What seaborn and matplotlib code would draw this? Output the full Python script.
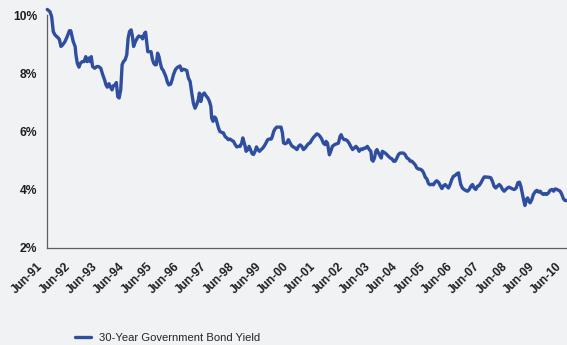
import matplotlib
matplotlib.use("Agg")
import matplotlib.pyplot as plt
import matplotlib.transforms as mtransforms
import seaborn as sns
import pandas as pd

# readings taken off the chart: decimal year, yield in %
year = [1991.51, 1991.61, 1991.67, 1991.73, 1991.79, 1991.88, 1991.95, 1992.01, 1992.07, 1992.16,
        1992.24, 1992.32, 1992.37, 1992.42, 1992.46, 1992.53, 1992.56, 1992.61, 1992.67, 1992.72,
        1992.79, 1992.86, 1992.92, 1992.97, 1993.03, 1993.08, 1993.12, 1993.17, 1993.25, 1993.32,
        1993.39, 1993.47, 1993.54, 1993.61, 1993.66, 1993.71, 1993.77, 1993.83, 1993.88, 1993.93,
        1993.99, 1994.04, 1994.09, 1994.14, 1994.20, 1994.25, 1994.30, 1994.36, 1994.42, 1994.47,
        1994.52, 1994.58, 1994.63, 1994.67, 1994.74, 1994.80, 1994.86, 1994.91, 1994.96, 1995.00,
        1995.07, 1995.11, 1995.15, 1995.19, 1995.25, 1995.31, 1995.36, 1995.41, 1995.46, 1995.50,
        1995.55, 1995.60, 1995.65, 1995.70, 1995.76, 1995.85, 1995.91, 1995.96, 1996.03, 1996.08,
        1996.13, 1996.20, 1996.27, 1996.37, 1996.43, 1996.49, 1996.56, 1996.62, 1996.68, 1996.74,
        1996.80, 1996.86, 1996.92, 1996.98, 1997.04, 1997.08, 1997.13, 1997.19, 1997.26, 1997.32,
        1997.39, 1997.45, 1997.50, 1997.53, 1997.58, 1997.63, 1997.68, 1997.73, 1997.78, 1997.83,
        1997.90, 1997.96, 1998.02, 1998.08, 1998.14, 1998.20, 1998.26, 1998.33, 1998.39, 1998.45,
        1998.51, 1998.57, 1998.63, 1998.67, 1998.72, 1998.75, 1998.79, 1998.85, 1998.90, 1998.96,
        1999.01, 1999.06, 1999.12, 1999.17, 1999.22, 1999.28, 1999.34, 1999.40, 1999.46, 1999.52,
        1999.58, 1999.64, 1999.71, 1999.75, 1999.80, 1999.85, 1999.91, 2000.00, 2000.07, 2000.12,
        2000.16, 2000.22, 2000.28, 2000.34, 2000.40, 2000.46, 2000.52, 2000.59, 2000.65, 2000.71,
        2000.77, 2000.83, 2000.89, 2000.95, 2001.01, 2001.07, 2001.13, 2001.20, 2001.26, 2001.32,
        2001.38, 2001.44, 2001.50, 2001.56, 2001.62, 2001.68, 2001.72, 2001.77, 2001.81, 2001.84,
        2001.89, 2001.95, 2002.03, 2002.11, 2002.17, 2002.23, 2002.27, 2002.32, 2002.38, 2002.44,
        2002.50, 2002.56, 2002.62, 2002.69, 2002.75, 2002.81, 2002.87, 2002.93, 2002.99, 2003.05,
        2003.11, 2003.17, 2003.23, 2003.30, 2003.36, 2003.39, 2003.44, 2003.49, 2003.54, 2003.58,
        2003.64, 2003.70, 2003.74, 2003.78, 2003.83, 2003.88, 2003.94, 2004.00, 2004.07, 2004.13,
        2004.19, 2004.25, 2004.31, 2004.37, 2004.43, 2004.49, 2004.55, 2004.61, 2004.68, 2004.74,
        2004.80, 2004.86, 2004.92, 2004.98, 2005.04, 2005.10, 2005.16, 2005.23, 2005.29, 2005.35,
        2005.41, 2005.47, 2005.53, 2005.59, 2005.65, 2005.71, 2005.77, 2005.84, 2005.90, 2005.96,
        2006.02, 2006.08, 2006.14, 2006.20, 2006.26, 2006.32, 2006.38, 2006.44, 2006.51, 2006.57,
        2006.60, 2006.65, 2006.71, 2006.77, 2006.84, 2006.90, 2006.96, 2007.02, 2007.08, 2007.14,
        2007.20, 2007.26, 2007.32, 2007.39, 2007.45, 2007.51, 2007.57, 2007.63, 2007.69, 2007.75,
        2007.81, 2007.87, 2007.93, 2007.99, 2008.06, 2008.12, 2008.18, 2008.24, 2008.30, 2008.36,
        2008.42, 2008.48, 2008.54, 2008.61, 2008.68, 2008.74, 2008.80, 2008.85, 2008.90, 2008.95,
        2009.00, 2009.05, 2009.10, 2009.14, 2009.19, 2009.25, 2009.31, 2009.39, 2009.44, 2009.50,
        2009.56, 2009.62, 2009.68, 2009.74, 2009.80, 2009.86, 2009.92, 2009.99, 2010.05, 2010.11,
        2010.17, 2010.23, 2010.29, 2010.35, 2010.41, 2010.47, 2010.54]

bond_yield = [10.19, 10.11, 9.94, 9.43, 9.32, 9.24, 9.17, 8.92, 8.97, 9.09,
              9.26, 9.46, 9.46, 9.26, 9.09, 8.92, 8.63, 8.34, 8.21, 8.34,
              8.40, 8.40, 8.57, 8.40, 8.52, 8.40, 8.57, 8.23, 8.17, 8.23,
              8.23, 8.17, 7.95, 7.77, 7.60, 7.52, 7.64, 7.52, 7.43, 7.57,
              7.60, 7.68, 7.20, 7.15, 7.43, 8.29, 8.40, 8.46, 8.63, 9.20,
              9.43, 9.49, 9.26, 8.92, 9.09, 9.20, 9.28, 9.26, 9.26, 9.18,
              9.37, 9.41, 9.09, 8.74, 8.74, 8.74, 8.48, 8.34, 8.29, 8.29,
              8.69, 8.57, 8.34, 8.17, 8.09, 7.89, 7.69, 7.60, 7.63, 7.77,
              7.95, 8.12, 8.20, 8.25, 8.09, 8.14, 8.12, 8.09, 7.83, 7.72,
              7.32, 6.97, 6.80, 6.92, 7.09, 7.32, 7.03, 7.26, 7.32, 7.23,
              7.15, 7.03, 6.86, 6.46, 6.35, 6.50, 6.46, 6.29, 6.12, 6.00,
              5.97, 5.95, 5.83, 5.78, 5.72, 5.74, 5.70, 5.66, 5.55, 5.47,
              5.49, 5.49, 5.61, 5.78, 5.61, 5.51, 5.32, 5.38, 5.49, 5.35,
              5.24, 5.21, 5.32, 5.47, 5.38, 5.32, 5.38, 5.43, 5.51, 5.61,
              5.72, 5.74, 5.74, 5.83, 6.00, 6.09, 6.15, 6.15, 6.15, 5.95,
              5.61, 5.58, 5.61, 5.72, 5.61, 5.51, 5.47, 5.43, 5.38, 5.49,
              5.54, 5.49, 5.38, 5.43, 5.51, 5.58, 5.61, 5.72, 5.80, 5.86,
              5.92, 5.89, 5.83, 5.74, 5.60, 5.55, 5.66, 5.60, 5.38, 5.20,
              5.32, 5.49, 5.55, 5.58, 5.60, 5.83, 5.89, 5.78, 5.72, 5.72,
              5.68, 5.60, 5.49, 5.38, 5.43, 5.49, 5.43, 5.32, 5.40, 5.38,
              5.43, 5.43, 5.49, 5.38, 5.32, 5.03, 4.98, 5.09, 5.32, 5.38,
              5.26, 5.15, 5.09, 5.32, 5.29, 5.26, 5.21, 5.15, 5.09, 5.06,
              4.98, 4.98, 5.09, 5.21, 5.26, 5.26, 5.26, 5.21, 5.09, 5.06,
              4.98, 4.98, 4.92, 4.86, 4.75, 4.71, 4.71, 4.67, 4.58, 4.43,
              4.37, 4.21, 4.17, 4.19, 4.17, 4.26, 4.31, 4.25, 4.14, 4.04,
              4.14, 4.18, 4.12, 4.06, 4.18, 4.35, 4.46, 4.49, 4.55, 4.58,
              4.41, 4.18, 4.06, 4.01, 3.97, 3.95, 4.01, 4.12, 4.18, 4.06,
              4.01, 4.12, 4.14, 4.24, 4.35, 4.44, 4.44, 4.43, 4.43, 4.41,
              4.29, 4.12, 4.06, 4.12, 4.18, 4.12, 4.01, 3.95, 4.01, 4.06,
              4.09, 4.06, 4.03, 4.01, 4.06, 4.24, 4.26, 4.12, 3.89, 3.66,
              3.46, 3.66, 3.72, 3.61, 3.55, 3.66, 3.84, 3.95, 3.98, 3.92,
              3.95, 3.87, 3.84, 3.87, 3.84, 3.89, 3.98, 4.01, 3.95, 4.03,
              4.01, 3.98, 3.95, 3.84, 3.69, 3.63, 3.63]

tick_years = list(range(1991, 2011))
tick_labels = ["Jun-%02d" % (y % 100) for y in tick_years]
y_ticks = [2, 4, 6, 8, 10]

df = pd.DataFrame({"year": year, "yield": bond_yield})

bg = "#f1f2f4"
line_color = "#2f4e9f"
axis_color = "#5f5f5f"
text_color = "#1e1e1e"

sns.set_style("white")
plt.rcParams["font.family"] = ["Liberation Sans", "DejaVu Sans"]

fig = plt.figure(figsize=(5.67, 3.45), dpi=100, facecolor=bg)
ax = fig.add_axes([47 / 567, 1 - 248 / 345, 1 - 47 / 567, (248 - 15) / 345])
ax.set_facecolor(bg)

sns.lineplot(data=df, x="year", y="yield", ax=ax, color=line_color, linewidth=2.4,
             label="30-Year Government Bond Yield", legend=False, clip_on=False)

ax.set_xlim(1991.5, 2010.54)
ax.set_ylim(2, 10)
ax.set_xticks([y + 0.5 for y in tick_years])
ax.set_xticklabels(tick_labels, rotation=45, ha="right", va="top",
                   rotation_mode="anchor", fontsize=8.6, fontweight="bold", color=text_color)
ax.set_yticks(y_ticks)
ax.set_yticklabels(["%d%%" % v for v in y_ticks], fontsize=8.7, fontweight="bold", color=text_color)
ax.set_xlabel("")
ax.set_ylabel("")

for side in ["top", "right"]:
    ax.spines[side].set_visible(False)
for side in ["left", "bottom"]:
    ax.spines[side].set_color(axis_color)
    ax.spines[side].set_linewidth(0.9)
ax.tick_params(axis="both", direction="out", length=4, width=0.8, color=axis_color)
ax.tick_params(axis="y", pad=3)
ax.tick_params(axis="x", pad=5)

# shift the rotated date labels to the left, as in the original
shift = mtransforms.ScaledTranslation(-10 / 100, 0, fig.dpi_scale_trans)
for lab in ax.get_xticklabels():
    lab.set_transform(lab.get_transform() + shift)

handles, labels = ax.get_legend_handles_labels()
fig.legend(handles, labels, loc="center left", bbox_to_anchor=(65 / 567, 1 - 338 / 345),
           frameon=False, fontsize=8.1, handlelength=1.45, handletextpad=0.7)

fig.savefig("out.png", dpi=100, facecolor=bg)
